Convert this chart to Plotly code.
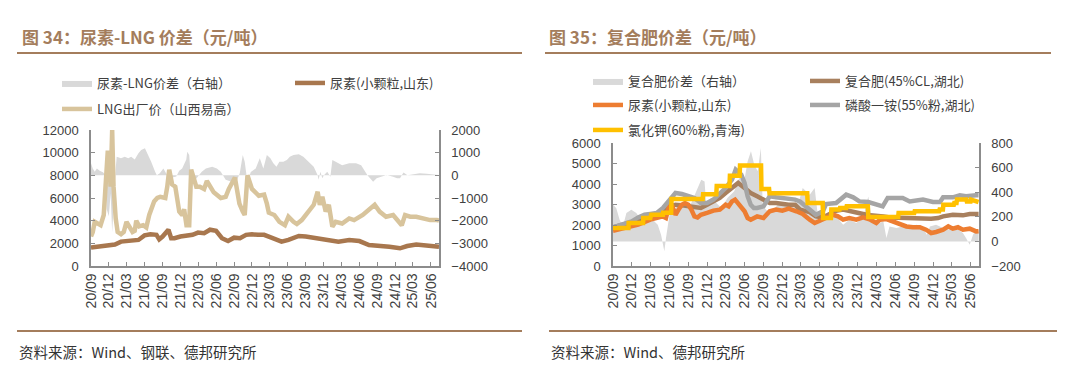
import plotly.graph_objects as go

W, H = 1080, 370


def fx(x):
    return x / W


def fy(y):
    return 1 - y / H


# ---------------- Figure 34 data ----------------
lng_dates = ["2020-09-01", "2020-09-10", "2020-09-20", "2020-10-05", "2020-10-20", "2020-11-05", "2020-11-20",
             "2020-11-25", "2020-12-01", "2020-12-10", "2020-12-18", "2020-12-25", "2021-01-05", "2021-01-15",
             "2021-02-01", "2021-02-15", "2021-03-01", "2021-03-15", "2021-04-01", "2021-04-12", "2021-04-20",
             "2021-05-05", "2021-05-25", "2021-06-10", "2021-06-25", "2021-07-20", "2021-08-05", "2021-08-20",
             "2021-09-15", "2021-09-25", "2021-10-05", "2021-10-20", "2021-11-05", "2021-11-25", "2021-12-10",
             "2021-12-20", "2022-01-01", "2022-01-15", "2022-01-25", "2022-02-20", "2022-03-10", "2022-04-01",
             "2022-04-15", "2022-05-20", "2022-06-25", "2022-07-20", "2022-08-05", "2022-09-05", "2022-09-28",
             "2022-10-15", "2022-10-25", "2022-11-08", "2022-12-01", "2023-01-05", "2023-02-01", "2023-02-15",
             "2023-02-25", "2023-03-25", "2023-04-20", "2023-05-18", "2023-06-05", "2023-07-01", "2023-07-18",
             "2023-08-12", "2023-09-18", "2023-10-12", "2023-11-01", "2023-11-12", "2023-11-25", "2023-12-12",
             "2023-12-28", "2024-01-15", "2024-02-01", "2024-03-05", "2024-04-10", "2024-05-05", "2024-06-18",
             "2024-07-20", "2024-08-18", "2024-09-12", "2024-10-15", "2024-11-20", "2024-12-15", "2025-01-03",
             "2025-01-20", "2025-02-15", "2025-03-18", "2025-04-25", "2025-05-28", "2025-07-01", "2025-07-12"]
lng_vals = [2600, 3000, 3900, 3800, 3600, 4500, 9800,
            10000, 10000, 7000, 12000, 7000, 4200, 3000,
            2800, 3000, 3900, 3500, 3000, 3100, 4000,
            3500, 3600, 3400, 4500, 5700, 6000, 6100,
            6000, 7000, 8500, 7200, 7000, 4800, 4500,
            5000, 3600, 3600, 8500, 7000, 7000, 6800,
            7500, 6500, 6000, 6100, 6800, 7800, 5500,
            4800, 4500, 8000, 6800, 6200, 6300, 5500,
            4700, 4500, 3900, 3600, 4350, 3900, 3700,
            4050, 4800, 5400, 6550, 5400, 6100, 4800,
            5400, 3470, 3900, 3750, 4200, 4050, 4500,
            4950, 5400, 4800, 4350, 4500, 4050, 3600,
            4500, 4350, 4350, 4200, 4050, 4050, 4000]

urea_l_dates = ["2020-09-01", "2020-11-01", "2021-01-01", "2021-02-01", "2021-03-01", "2021-04-01", "2021-05-01",
                "2021-06-01", "2021-07-01", "2021-08-01", "2021-08-15", "2021-09-01", "2021-10-01", "2021-10-15",
                "2021-11-01", "2021-12-01", "2022-01-01", "2022-02-01", "2022-03-01", "2022-04-01", "2022-05-01",
                "2022-06-01", "2022-07-01", "2022-08-01", "2022-09-01", "2022-10-01", "2022-11-01", "2022-12-01",
                "2023-01-01", "2023-02-01", "2023-03-10", "2023-05-01", "2023-06-05", "2023-07-28", "2023-09-01",
                "2023-10-20", "2023-11-25", "2023-12-28", "2024-02-15", "2024-04-10", "2024-06-01", "2024-07-20",
                "2024-09-12", "2024-11-01", "2024-12-25", "2025-01-31", "2025-03-18", "2025-05-10", "2025-07-01",
                "2025-07-12"]
urea_l_vals = [1620, 1800, 1900, 2150, 2200, 2300, 2300,
               2700, 2800, 2750, 2350, 2600, 3200, 2450,
               2450, 2600, 2650, 2750, 2950, 2900, 3200,
               3100, 2450, 2200, 2500, 2450, 2750, 2800,
               2750, 2750, 2500, 2150, 2300, 2650, 2600,
               2450, 2400, 2300, 2150, 2300, 2200, 1850,
               1800, 1700, 1560, 1760, 1900, 1800, 1800,
               1700]

spread_l_dates = ["2020-09-01", "2020-09-10", "2020-09-20", "2020-10-01", "2020-10-15", "2020-11-01", "2020-11-15",
                  "2020-11-20", "2020-12-01", "2020-12-10", "2020-12-18", "2020-12-28", "2021-01-05", "2021-01-10",
                  "2021-02-01", "2021-02-20", "2021-03-10", "2021-03-25", "2021-04-12", "2021-05-01", "2021-05-15",
                  "2021-06-03", "2021-06-20", "2021-07-05", "2021-07-25", "2021-08-03", "2021-08-18", "2021-09-05",
                  "2021-09-25", "2021-10-05", "2021-10-20", "2021-11-10", "2021-11-25", "2021-12-10", "2021-12-31",
                  "2022-01-05", "2022-01-15", "2022-01-22", "2022-02-05", "2022-03-01", "2022-03-20", "2022-04-10",
                  "2022-05-12", "2022-06-05", "2022-06-25", "2022-07-20", "2022-08-20", "2022-09-10", "2022-09-30",
                  "2022-10-15", "2022-10-25", "2022-11-08", "2022-11-25", "2022-12-20", "2023-01-10", "2023-01-28",
                  "2023-02-15", "2023-02-25", "2023-03-05", "2023-03-20", "2023-04-05", "2023-04-20", "2023-05-10",
                  "2023-05-28", "2023-06-12", "2023-07-01", "2023-07-28", "2023-08-20", "2023-09-18", "2023-10-12",
                  "2023-11-01", "2023-11-06", "2023-11-15", "2023-11-25", "2023-12-03", "2023-12-20", "2024-01-05",
                  "2024-01-15", "2024-02-01", "2024-03-05", "2024-04-10", "2024-05-15", "2024-06-10", "2024-06-28",
                  "2024-07-12", "2024-08-10", "2024-08-28", "2024-09-20", "2024-10-18", "2024-11-20", "2024-12-10",
                  "2024-12-25", "2025-01-12", "2025-02-01", "2025-03-05", "2025-04-05", "2025-05-10", "2025-06-12",
                  "2025-07-12"]
spread_l_vals = [530, 300, 160, 300, 200, 140, 0,
                 -1500, -1800, -800, -2500, -600, 300, 820,
                 750, 820, 750, 820, 700, 970, 1120,
                 1190, 900, 600, 160, 0, 90, 300,
                 0, -400, -100, -50, 200, 300, 700,
                 1040, 900, 0, -300, -50, 160, 300,
                 380, 300, 160, -200, -300, -350, 100,
                 900, 600, -300, 150, 300, 750, 300,
                 900, 820, 750, 530, 380, 600, 600,
                 680, 820, 900, 930, 820, 600, 380,
                 0, -200, 160, -130, 0, 160, -60,
                 680, 600, 450, 530, 530, 450, 160,
                 0, -280, -130, -60, 20, -60, -130,
                 -130, 120, 0, 40, 90, 70, 40,
                 10]

# ---------------- Figure 35 data ----------------
spread_r_dates = ["2020-09-01", "2020-09-17", "2020-10-03", "2020-10-19", "2020-11-05", "2020-11-29", "2020-12-23",
                  "2021-01-09", "2021-02-02", "2021-02-26", "2021-03-20", "2021-04-06", "2021-04-22", "2021-05-08",
                  "2021-05-16", "2021-06-02", "2021-06-26", "2021-07-19", "2021-08-13", "2021-09-16", "2021-10-10",
                  "2021-11-03", "2021-11-19", "2021-11-27", "2021-12-21", "2022-01-15", "2022-02-09", "2022-03-10",
                  "2022-04-12", "2022-05-06", "2022-05-30", "2022-06-16", "2022-07-02", "2022-07-18", "2022-08-04",
                  "2022-08-19", "2022-08-28", "2022-09-13", "2022-10-07", "2022-11-10", "2022-12-10", "2023-01-13",
                  "2023-02-07", "2023-02-20", "2023-03-10", "2023-04-13", "2023-05-07", "2023-05-22", "2023-06-16",
                  "2023-07-19", "2023-08-19", "2023-09-22", "2023-10-22", "2023-11-25", "2023-12-28", "2024-01-22",
                  "2024-02-07", "2024-03-01", "2024-04-04", "2024-04-19", "2024-05-04", "2024-06-07", "2024-07-07",
                  "2024-08-10", "2024-09-13", "2024-10-13", "2024-11-01", "2024-11-16", "2024-12-16", "2025-01-19",
                  "2025-02-21", "2025-03-22", "2025-04-25", "2025-05-10", "2025-05-28", "2025-06-13", "2025-06-28",
                  "2025-07-10"]
spread_r_vals = [299, 270, 177, 122, 231, 258, 231,
                 190, 163, 177, 163, 136, 55, -80,
                 28, 217, 258, 312, 272, 312, 407,
                 502, 488, 299, 353, 312, 272, 353,
                 407, 515, 488, 651, 732, 624, 570,
                 760, 299, 258, 231, 299, 312, 299,
                 312, 326, 434, 380, 434, 217, 177,
                 217, 204, 136, 177, 150, 190, 366,
                 190, 136, 163, 28, 122, 109, 122,
                 122, 136, 109, 55, 122, 136, 109,
                 95, 109, 68, 28, -27, 55, 95,
                 90]

compound_dates = ["2020-09-01", "2020-11-01", "2021-01-01", "2021-03-01", "2021-05-01", "2021-06-01", "2021-07-01",
                  "2021-08-01", "2021-09-01", "2021-10-01", "2021-11-01", "2021-12-01", "2022-01-01", "2022-02-01",
                  "2022-03-01", "2022-04-01", "2022-05-01", "2022-06-01", "2022-07-01", "2022-08-01", "2022-09-01",
                  "2022-10-01", "2022-11-01", "2022-12-01", "2023-01-01", "2023-02-01", "2023-02-25", "2023-04-13",
                  "2023-05-13", "2023-06-16", "2023-07-19", "2023-08-19", "2023-09-22", "2023-10-22", "2023-11-25",
                  "2023-12-28", "2024-02-01", "2024-03-01", "2024-04-04", "2024-05-07", "2024-07-13", "2024-09-16",
                  "2024-11-22", "2024-12-25", "2025-01-19", "2025-03-07", "2025-04-25", "2025-05-28", "2025-06-28",
                  "2025-07-10"]
compound_vals = [1890, 2050, 2210, 2340, 2540, 2910, 2990,
                 2960, 2910, 2830, 2830, 2990, 3150, 3320,
                 3560, 3800, 4050, 3800, 3560, 3400, 3240,
                 3070, 3070, 3020, 2990, 2990, 2750, 2630,
                 2420, 2370, 2540, 2700, 2750, 2700, 2630,
                 2540, 2470, 2470, 2420, 2370, 2340, 2310,
                 2310, 2340, 2420, 2500, 2470, 2540, 2540,
                 2540]

urea_r_dates = ["2020-09-01", "2020-11-01", "2021-01-01", "2021-03-01", "2021-05-01", "2021-05-16", "2021-06-01",
                "2021-06-16", "2021-07-01", "2021-07-16", "2021-08-01", "2021-08-16", "2021-09-01", "2021-09-16",
                "2021-10-01", "2021-10-16", "2021-11-01", "2021-12-01", "2022-01-01", "2022-02-01", "2022-03-01",
                "2022-03-16", "2022-04-01", "2022-04-16", "2022-05-01", "2022-06-01", "2022-06-16", "2022-07-01",
                "2022-08-01", "2022-09-01", "2022-10-01", "2022-11-01", "2022-12-01", "2023-01-01", "2023-02-07",
                "2023-03-10", "2023-04-13", "2023-05-07", "2023-06-01", "2023-07-04", "2023-08-04", "2023-08-28",
                "2023-09-22", "2023-10-22", "2023-11-25", "2023-12-28", "2024-02-01", "2024-03-01", "2024-03-19",
                "2024-04-19", "2024-05-22", "2024-06-22", "2024-07-25", "2024-08-25", "2024-09-28", "2024-10-28",
                "2024-11-22", "2024-12-16", "2025-01-19", "2025-02-13", "2025-03-07", "2025-04-01", "2025-04-25",
                "2025-05-28", "2025-06-28", "2025-07-10"]
urea_r_vals = [1720, 1850, 2020, 2260, 2420, 2340, 2990,
               2910, 2500, 2750, 2990, 3070, 2990, 2750,
               2420, 2370, 2500, 2590, 2700, 2750, 2990,
               2910, 3150, 3240, 3070, 2670, 2340, 2260,
               2420, 2340, 2670, 2750, 2700, 2800, 2670,
               2540, 2260, 2100, 2210, 2340, 2500, 2420,
               2260, 2340, 2260, 2370, 2260, 2100, 2260,
               2290, 2180, 2020, 1930, 1890, 1890, 1770,
               1610, 1660, 1770, 1930, 1820, 1890, 1770,
               1820, 1690, 1700]

map_dates = ["2020-09-01", "2020-11-01", "2020-12-01", "2021-01-01", "2021-02-01", "2021-03-01", "2021-04-01",
             "2021-05-01", "2021-06-01", "2021-07-01", "2021-08-01", "2021-09-01", "2021-10-01", "2021-11-01",
             "2021-12-01", "2022-01-01", "2022-02-01", "2022-03-01", "2022-04-01", "2022-04-19", "2022-05-16",
             "2022-06-01", "2022-06-16", "2022-07-01", "2022-07-16", "2022-08-01", "2022-09-01", "2022-10-01",
             "2022-11-01", "2022-12-01", "2023-01-01", "2023-02-01", "2023-02-25", "2023-04-13", "2023-05-13",
             "2023-06-16", "2023-07-01", "2023-08-19", "2023-10-07", "2023-11-10", "2023-12-10", "2024-01-22",
             "2024-03-01", "2024-04-01", "2024-04-25", "2024-06-07", "2024-07-07", "2024-08-10", "2024-10-13",
             "2024-12-01", "2025-01-04", "2025-01-19", "2025-03-07", "2025-04-10", "2025-05-10", "2025-06-28",
             "2025-07-10"]
map_vals = [1890, 2100, 2180, 2370, 2500, 2540, 2590,
            2830, 3240, 3560, 3510, 3400, 3320, 3070,
            3070, 3240, 3560, 3800, 4210, 4700, 4460,
            4050, 3400, 2990, 2830, 2830, 2910, 3400,
            3350, 3320, 3320, 3240, 3150, 2750, 2500,
            2670, 3020, 3070, 3480, 3350, 3150, 3120,
            2990, 2910, 3320, 3350, 3320, 3150, 3240,
            3120, 3120, 3350, 3350, 3450, 3400, 3450,
            3450]

kcl_dates = ["2020-09-01", "2020-11-15", "2020-11-16", "2021-01-25", "2021-01-26", "2021-03-01", "2021-03-05",
             "2021-05-01", "2021-05-02", "2021-06-10", "2021-06-12", "2021-11-10", "2021-11-12", "2022-01-15",
             "2022-01-17", "2022-03-20", "2022-03-22", "2022-05-08", "2022-05-10", "2022-08-20", "2022-08-22",
             "2022-09-28", "2022-09-30", "2023-04-01", "2023-04-03", "2023-06-15", "2023-06-17", "2023-07-25",
             "2023-07-27", "2023-09-05", "2023-09-07", "2023-10-07", "2023-10-09", "2024-01-20", "2024-01-22",
             "2024-06-15", "2024-06-17", "2024-09-01", "2024-09-03", "2024-12-31", "2025-01-02", "2025-01-18",
             "2025-01-20", "2025-03-12", "2025-03-14", "2025-03-25", "2025-03-27", "2025-05-12", "2025-05-14",
             "2025-06-01", "2025-06-03", "2025-07-10"]
kcl_vals = [1850, 1850, 2100, 2100, 2340, 2340, 2500,
            2500, 2600, 2600, 3270, 3270, 3500, 3500,
            3900, 3900, 4400, 4400, 4900, 4900, 3750,
            3750, 3550, 3550, 3070, 3070, 2340, 2340,
            2750, 2750, 2830, 2830, 2910, 2910, 2390,
            2390, 2590, 2590, 2670, 2670, 2750, 2750,
            2990, 2990, 3070, 3070, 3240, 3240, 3150,
            3150, 3240, 3120]

# ---------------- styling ----------------
BROWN_T = "#A47D5C"
AXIS_C = "#8C8C8C"
TXT = "#404040"
CJK = "Noto Sans CJK SC"
NUM = "Liberation Sans"
LW = 4.5

fig = go.Figure()

# Figure 34 traces (area on base axis y, lines on overlay y2)
fig.add_trace(go.Scatter(x=spread_l_dates, y=spread_l_vals, name="尿素-LNG价差（右轴）", mode="lines",
                         fill="tozeroy", fillcolor="#D9D9D9", line=dict(width=0, color="#D9D9D9"),
                         xaxis="x", yaxis="y", legend="legend"))
fig.add_trace(go.Scatter(x=urea_l_dates, y=urea_l_vals, name="尿素(小颗粒,山东)", mode="lines",
                         line=dict(width=LW, color="#A8774E"), xaxis="x", yaxis="y2", legend="legend"))
fig.add_trace(go.Scatter(x=lng_dates, y=lng_vals, name="LNG出厂价（山西易高）", mode="lines",
                         line=dict(width=LW, color="#D8C49C"), xaxis="x", yaxis="y2", legend="legend2"))

# Figure 35 traces (area on base axis y3, lines on overlay y4)
fig.add_trace(go.Scatter(x=spread_r_dates, y=spread_r_vals, name="复合肥价差（右轴）", mode="lines",
                         fill="tozeroy", fillcolor="#D9D9D9", line=dict(width=0, color="#D9D9D9"),
                         xaxis="x2", yaxis="y3", legend="legend3"))
fig.add_trace(go.Scatter(x=compound_dates, y=compound_vals, name="复合肥(45%CL,湖北)", mode="lines",
                         line=dict(width=LW, color="#A8805E"), xaxis="x2", yaxis="y4", legend="legend3"))
fig.add_trace(go.Scatter(x=urea_r_dates, y=urea_r_vals, name="尿素(小颗粒,山东)", mode="lines",
                         line=dict(width=LW, color="#ED7D31"), xaxis="x2", yaxis="y4", legend="legend4"))
fig.add_trace(go.Scatter(x=map_dates, y=map_vals, name="磷酸一铵(55%粉,湖北)", mode="lines",
                         line=dict(width=LW, color="#A5A5A5"), xaxis="x2", yaxis="y4", legend="legend4"))
fig.add_trace(go.Scatter(x=kcl_dates, y=kcl_vals, name="氯化钾(60%粉,青海)", mode="lines",
                         line=dict(width=LW, color="#FFC000"), xaxis="x2", yaxis="y4", legend="legend5"))

tickfont = dict(family=NUM, size=13, color=TXT)
xcommon = dict(type="date", tick0="2020-09-01", dtick="M3", tickformat="%y/%m", tickangle=-90,
               ticks="inside", ticklen=4, tickcolor=AXIS_C, showline=True, linecolor=AXIS_C, linewidth=1.5,
               showgrid=False, zeroline=False, tickfont=dict(family=NUM, size=14, color=TXT),
               range=["2020-09-01", "2025-07-12"], automargin=False)
ycommon = dict(ticks="inside", ticklen=4, tickcolor=AXIS_C, showline=True, linecolor=AXIS_C, linewidth=1.5,
               showgrid=False, zeroline=False, tickfont=tickfont, ticklabelstandoff=8, tickformat="d",
               automargin=False)

legend_common = dict(orientation="h", xanchor="left", yanchor="middle", bgcolor="rgba(0,0,0,0)",
                     font=dict(family=CJK, size=13, color=TXT), itemwidth=30,
                     entrywidthmode="pixels", traceorder="normal")

fig.update_layout(
    width=W, height=H, autosize=False, margin=dict(l=0, r=0, t=0, b=0, pad=0, autoexpand=False),
    paper_bgcolor="white", plot_bgcolor="white", showlegend=True,
    xaxis=dict(domain=[fx(91), fx(439)], anchor="y", **xcommon),
    yaxis=dict(domain=[fy(266), fy(130)], anchor="x", side="right", range=[-4000, 2000], dtick=1000, **ycommon),
    yaxis2=dict(overlaying="y", anchor="x", side="left", range=[0, 12000], dtick=2000, **ycommon),
    xaxis2=dict(domain=[fx(613), fx(979)], anchor="y3", **xcommon),
    yaxis3=dict(domain=[fy(266), fy(143)], anchor="x2", side="right", range=[-200, 800], dtick=200, **ycommon),
    yaxis4=dict(overlaying="y3", anchor="x2", side="left", range=[0, 6000], dtick=1000, **ycommon),
    legend=dict(x=fx(57), y=fy(83), entrywidth=188, **legend_common),
    legend2=dict(x=fx(57), y=fy(109), entrywidth=188, **legend_common),
    legend3=dict(x=fx(588), y=fy(81), entrywidth=172, **legend_common),
    legend4=dict(x=fx(588), y=fy(105), entrywidth=172, **legend_common),
    legend5=dict(x=fx(588), y=fy(130), entrywidth=172, **legend_common),
)

# titles, rules, footers
titles = [("图 34：尿素-LNG 价差（元/吨）", 20), ("图 35：复合肥价差（元/吨）", 547)]
for t, x0 in titles:
    fig.add_annotation(text="<b>" + t + "</b>", x=fx(x0), y=fy(37), xref="paper", yref="paper",
                       xanchor="left", yanchor="middle", showarrow=False,
                       font=dict(family=CJK, size=17, color=BROWN_T))

for x0, x1 in [(17, 522), (545, 1051)]:
    fig.add_shape(type="line", xref="paper", yref="paper", x0=fx(x0), x1=fx(x1), y0=fy(53), y1=fy(53),
                  line=dict(color=BROWN_T, width=2))
for x0, x1 in [(17, 522), (549, 1057)]:
    fig.add_shape(type="line", xref="paper", yref="paper", x0=fx(x0), x1=fx(x1), y0=fy(331), y1=fy(331),
                  line=dict(color=BROWN_T, width=2))

footers = [("资料来源：Wind、钢联、德邦研究所", 17), ("资料来源：Wind、德邦研究所", 549)]
for t, x0 in footers:
    fig.add_annotation(text=t, x=fx(x0), y=fy(351), xref="paper", yref="paper", xanchor="left",
                       yanchor="middle", showarrow=False, font=dict(family=CJK, size=14.5, color="#333333"))

fig.write_html("out.html", config={"displayModeBar": False},
               post_script="document.body.style.margin='0px';")
